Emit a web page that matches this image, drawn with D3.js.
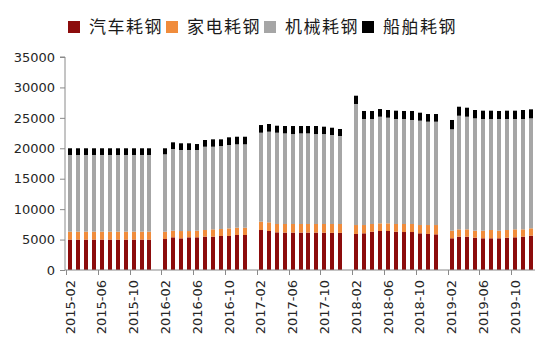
<!DOCTYPE html>
<html>
<head>
<meta charset="utf-8">
<script src="https://cdn.jsdelivr.net/npm/d3@7"></script>
<style>
  body{margin:0;background:#fff;}
  svg{display:block;}
</style>
</head>
<body>
<svg id="chart" width="550" height="354"></svg>
<script>
// categories: Feb 2015 .. Dec 2019 (January has no data)
const years=["2015","2016","2017","2018","2019"];
const monthNames=["01","02","03","04","05","06","07","08","09","10","11","12"];
const months=[];
years.forEach(y=>monthNames.forEach(m=>{ if(!(y==="2015"&&m==="01")) months.push(y+"-"+m); }));

const tickLabels=["2015-02","2015-06","2015-10","2016-02","2016-06","2016-10","2017-02","2017-06","2017-10",
  "2018-02","2018-06","2018-10","2019-02","2019-06","2019-10"];

const seriesNames=["汽车耗钢","家电耗钢","机械耗钢","船舶耗钢"];
const colors=["#8c0c0c","#f08c3c","#a6a6a6","#000000"];

// values (null = no data, January)
const auto=[
  5000,5000,5000,5000,5000,5000,5000,5000,5000,5000,5000,
  null,5090,5370,5200,5370,5370,5480,5480,5590,5590,5750,5750,
  null,6570,6410,6190,6150,6150,6150,6150,6150,6130,6100,6100,
  null,5920,6030,6290,6410,6410,6290,6240,6240,6030,5920,5860,
  null,5210,5480,5480,5310,5210,5210,5210,5310,5370,5480,5640
];
const appliance=[
  1300,1300,1300,1300,1300,1300,1300,1300,1300,1300,1300,
  null,1200,1090,1200,1030,1090,1090,1200,1150,1250,1200,1200,
  null,1370,1420,1370,1410,1410,1410,1410,1410,1430,1460,1460,
  null,1470,1360,1270,1260,1260,1270,1320,1320,1360,1470,1530,
  null,1250,1200,1200,1150,1250,1360,1250,1260,1310,1200,1210
];
const machinery=[
  12600,12600,12600,12600,12600,12600,12600,12600,12600,12600,12600,
  null,12720,13420,13320,13320,13260,13690,13580,13630,13700,13700,13700,
  null,14620,14900,15000,14890,14780,14890,14890,14780,14780,14620,14460,
  null,19890,17420,17250,17520,17360,17250,17250,17090,17150,16980,16980,
  null,16660,18670,18510,18460,18350,18240,18350,18240,18130,18130,18070
];
const ship=[
  1100,1100,1100,1100,1100,1100,1100,1100,1100,1100,1100,
  null,990,1100,1100,1100,980,1100,1210,1100,1260,1250,1250,
  null,1260,1260,1150,1210,1320,1210,1210,1320,1210,1200,1150,
  null,1360,1320,1320,1260,1260,1370,1320,1480,1310,1260,1260,
  null,1530,1480,1480,1370,1370,1370,1320,1370,1370,1480,1480
];
const yTicks=[0,5000,10000,15000,20000,25000,30000,35000];

const svg=d3.select("#chart");
const m={top:57,right:15,bottom:84,left:65};
const w=550,h=354;
const axisColor="#8a8a8a";

const rows=months.map((mo,i)=>({month:mo,auto:auto[i],appliance:appliance[i],machinery:machinery[i],ship:ship[i]}));
const keys=["auto","appliance","machinery","ship"];
const stacked=d3.stack().keys(keys).value((d,k)=>d[k]||0)(rows);

const x=d3.scaleBand().domain(months).range([m.left+1,w-m.right]).paddingInner(0.5).paddingOuter(0.25);
const y=d3.scaleLinear().domain([0,35000]).range([h-m.bottom,m.top]);
const bw=4;

svg.append("g").selectAll("g")
  .data(stacked)
  .enter().append("g")
  .attr("fill",(d,i)=>colors[i])
  .selectAll("rect")
  .data(d=>d.filter(p=>p.data.auto!=null))
  .enter().append("rect")
  .attr("x",d=>Math.round(x(d.data.month)+x.bandwidth()/2-bw/2))
  .attr("y",d=>y(d[1]))
  .attr("width",bw)
  .attr("height",d=>y(d[0])-y(d[1]));

// y axis
const ya=svg.append("g").attr("transform",`translate(${m.left},0)`)
  .call(d3.axisLeft(y).tickValues(yTicks).tickSize(5).tickPadding(5).tickFormat(d3.format("d")));
ya.selectAll("path,line").attr("stroke",axisColor);
ya.select(".domain").attr("d",`M-5,${y(35000)}H0V${y(0)}`);
ya.selectAll("text").attr("font-family","DejaVu Sans").attr("font-size","13px").attr("fill","#262626");

// x axis: ticks on category boundaries, labels on category centres
const step=x.step();
const xg=svg.append("g");
xg.append("line").attr("x1",m.left).attr("x2",w-m.right).attr("y1",y(0)).attr("y2",y(0)).attr("stroke",axisColor);
xg.selectAll(".xt").data(tickLabels).enter().append("line")
  .attr("x1",d=>Math.round(x(d)-step*0.25)+0.5).attr("x2",d=>Math.round(x(d)-step*0.25)+0.5)
  .attr("y1",y(0)).attr("y2",y(0)+5).attr("stroke",axisColor);
xg.selectAll(".xl").data(tickLabels).enter().append("text")
  .attr("transform",d=>`translate(${x(d)+x.bandwidth()/2},${y(0)+10}) rotate(-90)`)
  .attr("text-anchor","end").attr("dy","0.35em")
  .attr("font-family","DejaVu Sans").attr("font-size","13px").attr("fill","#262626")
  .text(d=>d);

// legend
const lg=svg.append("g").attr("transform","translate(68,21)");
const item=lg.selectAll("g").data(seriesNames).enter().append("g")
  .attr("transform",(d,i)=>`translate(${i*98},0)`);
item.append("rect").attr("width",12).attr("height",12).attr("fill",(d,i)=>colors[i]);
item.append("text").attr("x",21).attr("y",12)
  .attr("font-family","'Noto Sans CJK SC'").attr("font-size","17px").attr("letter-spacing","1.5px")
  .attr("fill","#1a1a1a").text(d=>d);
</script>
</body>
</html>
